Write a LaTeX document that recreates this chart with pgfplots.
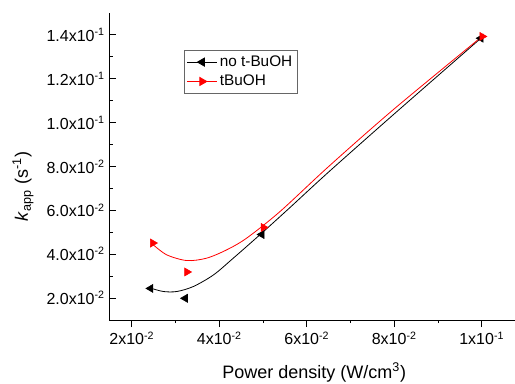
\documentclass[border=0pt]{standalone}
\usepackage{pgfplots}
\pgfplotsset{compat=1.18}
\usepackage{fontspec}
\setmainfont{Liberation Sans}
\begin{document}
\begin{tikzpicture}
\begin{axis}[
  at={(0,0)}, anchor=south west,
  scale only axis, width=304.125pt, height=230.25pt,
  xmin=0.0149, xmax=0.1076, ymin=0.01, ymax=0.15,
  axis x line=bottom, axis y line=left, axis line style={-, line width=0.75pt},
  xtick align=outside, ytick align=inside,
  major tick length=5.25pt, minor tick length=2.4pt,
  tick style={black, line width=0.75pt},
  minor tick num=1,
  scaled ticks=false,
  xtick={0.02,0.04,0.06,0.08,0.1},
  xticklabels={2x10\textsuperscript{-2},4x10\textsuperscript{-2},6x10\textsuperscript{-2},8x10\textsuperscript{-2},1x10\textsuperscript{-1}},
  ytick={0.02,0.04,0.06,0.08,0.10,0.12,0.14},
  yticklabels={2.0x10\textsuperscript{-2},4.0x10\textsuperscript{-2},6.0x10\textsuperscript{-2},8.0x10\textsuperscript{-2},1.0x10\textsuperscript{-1},1.2x10\textsuperscript{-1},1.4x10\textsuperscript{-1}},
  tick label style={font=\fontsize{12}{12}\selectfont},
  xlabel={Power density (W/cm\textsuperscript{3})},
  ylabel={\textit{k}\textsubscript{app} (s\textsuperscript{-1})},
  label style={font=\fontsize{13.5}{13.5}\selectfont},
  xlabel style={at={(axis description cs:0.505,-0.192)}, anchor=base},
  ylabel style={at={(axis description cs:-0.201,0.435)}, anchor=base},
  legend style={at={(axis description cs:0.184,0.879)}, anchor=north west,
    draw=black!60, font=\fontsize{11.5}{11.5}\selectfont, cells={anchor=west},
    inner xsep=2pt, inner ysep=2pt, row sep=1pt},
  legend image code/.code={\draw[mark repeat=2,mark phase=2,#1] plot coordinates {(0pt,0pt) (11pt,0pt) (22pt,0pt)};},
]
% fitted curves
\addplot[black, line width=0.6pt, smooth, forget plot] coordinates {
 (0.0242,0.0246)(0.0272,0.0230)(0.0303,0.0230)(0.0341,0.0253)(0.0387,0.0306)
 (0.0432,0.0382)(0.0493,0.0489)(0.0560,0.0610)(0.0650,0.0775)(0.0800,0.1040)
 (0.0998,0.1385)};
\addplot[red, line width=0.6pt, smooth, forget plot] coordinates {
 (0.0249,0.0443)(0.0280,0.0397)(0.0326,0.0371)(0.0371,0.0382)(0.0417,0.0420)
 (0.0463,0.0474)(0.0539,0.0595)(0.0650,0.0800)(0.0800,0.1063)(0.1000,0.1392)};
% data points
\addplot[black, only marks, mark=triangle*, mark size=3.5pt, mark options={rotate=90}, forget plot] coordinates {
 (0.0243,0.0244)(0.0322,0.0199)(0.0497,0.0490)(0.0998,0.1385)};
\addplot[red, only marks, mark=triangle*, mark size=3.5pt, mark options={rotate=-90}, forget plot] coordinates {
 (0.0248,0.0451)(0.0326,0.0319)(0.0501,0.0522)(0.1001,0.1393)};
\addlegendimage{black, line width=0.6pt, mark=triangle*, mark size=3.5pt, mark options={rotate=90}}
\addlegendentry{no t-BuOH}
\addlegendimage{red, line width=0.6pt, mark=triangle*, mark size=3.5pt, mark options={rotate=-90}}
\addlegendentry{tBuOH}
\end{axis}
\pgfresetboundingbox
\useasboundingbox (-82.125pt,-47.25pt) rectangle (304.125pt,240pt);
\end{tikzpicture}
\end{document}
